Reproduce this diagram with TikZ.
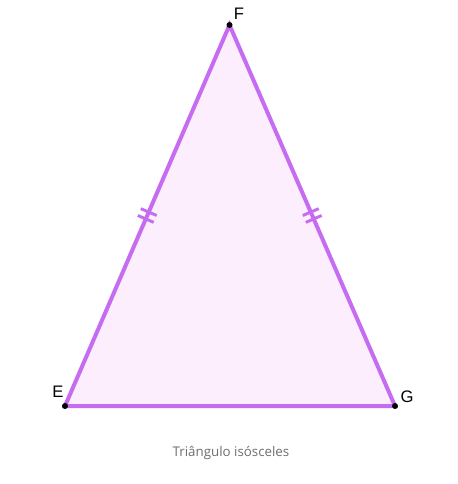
\documentclass[tikz,border=0pt]{standalone}
\usepackage{fontspec}
\setmainfont{Liberation Sans}
\newfontfamily\captionfont{Open Sans}
\usetikzlibrary{calc}
\definecolor{sidecolor}{RGB}{198,108,240}
\definecolor{facecolor}{RGB}{252,238,252}
\definecolor{captioncolor}{RGB}{110,110,110}

\begin{document}
\begin{tikzpicture}[x=0.75pt, y=-0.75pt,
  side/.style={draw=sidecolor, line width=3pt, line join=miter},
  tickmark/.style={draw=sidecolor, line width=2.2pt},
  vertex/.style={circle, fill=black, inner sep=0pt, minimum size=4.5pt},
  vlabel/.style={font=\fontsize{12.5}{14}\selectfont, inner sep=0pt}]
  \useasboundingbox (0,0) rectangle (457,484);

  \coordinate (E) at (65,406);
  \coordinate (F) at (229.5,25);
  \coordinate (G) at (395,406);

  \fill[facecolor] (E) -- (F) -- (G) -- cycle;
  \draw[side] (E) -- (F) -- (G) -- cycle;

  % equal sides
  \coordinate (l1) at ($(E)!0.491!(F)$);
  \coordinate (l2) at ($(E)!0.509!(F)$);
  \coordinate (r1) at ($(G)!0.491!(F)$);
  \coordinate (r2) at ($(G)!0.509!(F)$);
  \draw[tickmark] ($(l1)!6.5pt!90:(F)$) -- ($(l1)!6.5pt!-90:(F)$);
  \draw[tickmark] ($(l2)!6.5pt!90:(F)$) -- ($(l2)!6.5pt!-90:(F)$);
  \draw[tickmark] ($(r1)!6.5pt!90:(F)$) -- ($(r1)!6.5pt!-90:(F)$);
  \draw[tickmark] ($(r2)!6.5pt!90:(F)$) -- ($(r2)!6.5pt!-90:(F)$);

  \node[vertex] at (E) {};
  \node[vertex] at (F) {};
  \node[vertex] at (G) {};

  \node[vlabel] (labE) at (58,392) {E};
  \node[vlabel] (labF) at (239,14) {F};
  \node[vlabel] (labG) at (407,397) {G};

  \node[font=\captionfont\fontsize{10}{12}\selectfont, text=captioncolor] (cap) at (231,453) {Triângulo isósceles};
\end{tikzpicture}
\end{document}
